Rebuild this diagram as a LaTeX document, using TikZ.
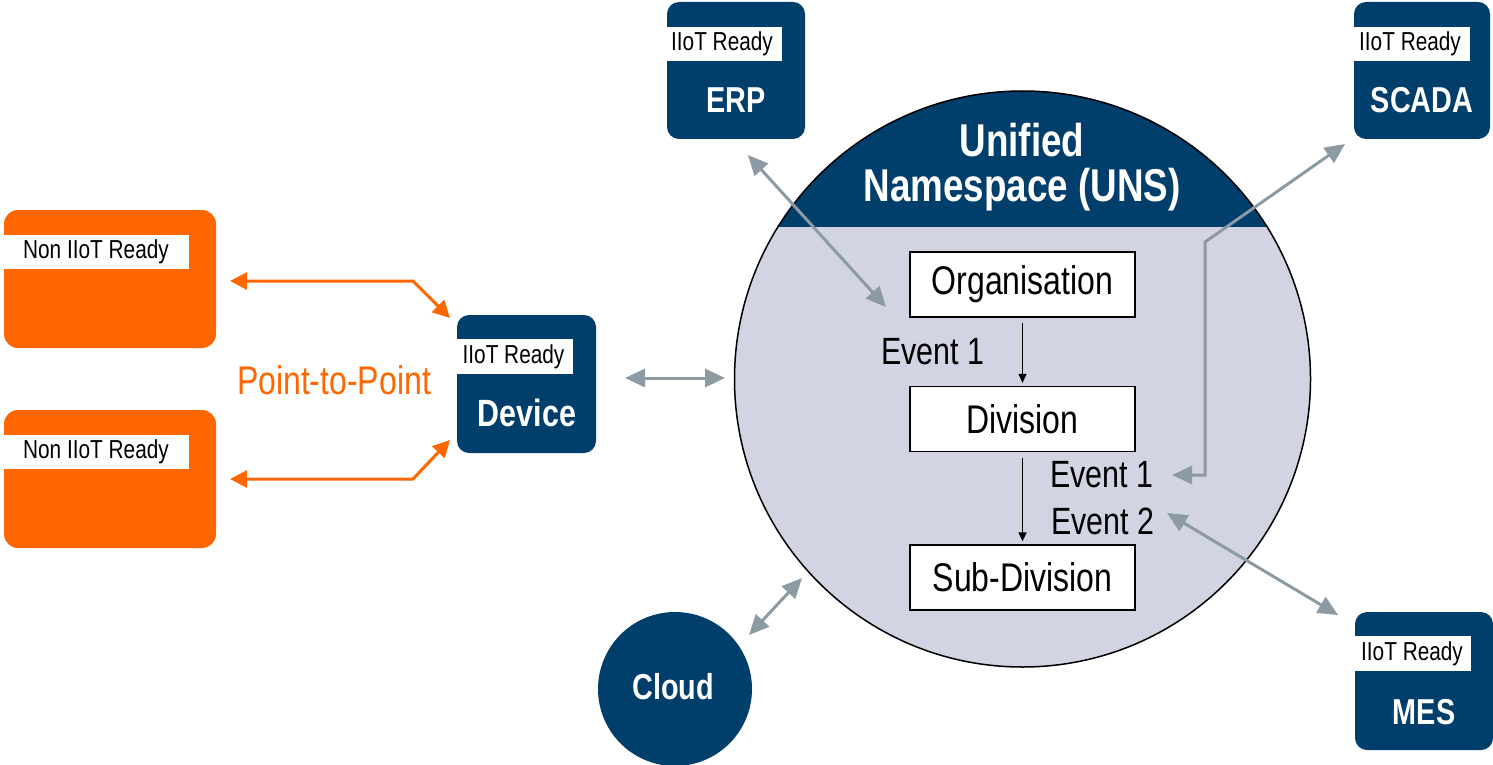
\documentclass[tikz,border=0pt]{standalone}
\usepackage{fontspec}
\setmainfont{Liberation Sans}[FakeStretch=0.8]
\usetikzlibrary{arrows.meta}
\definecolor{navy}{RGB}{0,62,108}
\definecolor{orangec}{RGB}{255,102,0}
\definecolor{grayc}{RGB}{140,154,163}
\definecolor{lavender}{RGB}{210,212,227}
\tikzset{
  iotbox/.style={rectangle, rounded corners=12pt, fill=navy, minimum width=138pt, minimum height=137pt, inner sep=0pt},
  oldbox/.style={rectangle, rounded corners=14pt, fill=orangec, minimum width=212pt, minimum height=138pt, inner sep=0pt},
  tag/.style={rectangle, fill=white, minimum width=120pt, minimum height=34pt, inner sep=0pt, font=\fontsize{26}{26}\selectfont},
  boxtitle/.style={text=white, inner sep=0pt, font=\bfseries\fontsize{36}{36}\selectfont},
  level/.style={rectangle, draw=black, line width=1.3pt, fill=white, minimum width=225pt, minimum height=65pt, inner sep=0pt, font=\fontsize{40}{40}\selectfont},
  event/.style={inner sep=0pt, font=\fontsize{38}{38}\selectfont},
  garrow/.style={draw=grayc, line width=3pt, {Triangle[length=20pt,width=18pt]}-{Triangle[length=20pt,width=18pt]}},
  oarrow/.style={draw=orangec, line width=3pt, {Triangle[length=17pt,width=17pt]}-{Triangle[length=17pt,width=17pt]}},
  barrow/.style={draw=black, line width=1.2pt, -{Triangle[length=9pt,width=8pt]}}
}
\begin{document}
\begin{tikzpicture}[x=1pt,y=-1pt]
\useasboundingbox (0,0) rectangle (1493,765);

% UNS circle
\node[circle, fill=lavender, minimum size=576pt, inner sep=0pt, outer sep=0pt] (uns) at (1022.5,379) {};
\begin{scope}
  \clip (uns.center) circle[radius=288pt];
  \fill[navy] (700,60) rectangle (1350,227);
\end{scope}
\draw[black, line width=1.5pt] (uns.center) circle[radius=288pt];
\node[text=white, align=center, inner sep=0pt, font=\bfseries\fontsize{46}{45}\selectfont] (title) at (1022,167) {Unified\\Namespace (UNS)};

% levels
\node[level] (org) at (1022.5,284.5) {Organisation};
\node[level] (div) at (1022.5,419) {Division};
\node[level] (sub) at (1022.5,577.5) {Sub-Division};
\draw[barrow, shorten <=5pt, shorten >=3pt] (org.south) -- (div.north);
\draw[barrow, shorten <=6pt, shorten >=3pt] (div.south) -- (sub.north);
\node[event] (ev0) at (933,352) {Event 1};
\node[event] (ev1) at (1102,475) {Event 1};
\node[event] (ev2) at (1103,521) {Event 2};

% IIoT ready boxes
\node[iotbox] (erp) at (736,70.5) {};
\node[tag] (erptag) at (722,44) {IIoT Ready};
\node[boxtitle] (erpt) at (736,100) {ERP};

\node[iotbox, minimum width=136pt] (scada) at (1422,70.5) {};
\node[tag] (scadatag) at (1410,44) {IIoT Ready};
\node[boxtitle] (scadat) at (1422,100) {SCADA};

\node[iotbox, minimum width=139pt, minimum height=138pt] (device) at (526.5,384) {};
\node[tag, minimum width=119pt, minimum height=35pt] (devtag) at (513.5,356.5) {IIoT Ready};
\node[boxtitle, font=\bfseries\fontsize{38}{38}\selectfont] (devt) at (527,413) {Device};

\node[iotbox, minimum height=138pt] (mes) at (1424,681) {};
\node[tag, minimum width=118pt, minimum height=35pt] (mestag) at (1412,653.5) {IIoT Ready};
\node[boxtitle] (mest) at (1424,712) {MES};

% Cloud
\node[circle, fill=navy, minimum size=154pt, inner sep=0pt] (cloud) at (675,689) {};
\node[boxtitle] (cloudt) at (673,687) {Cloud};

% Non IIoT boxes
\node[oldbox] (old1) at (110,279) {};
\node[tag, minimum width=186pt] (old1tag) at (96,252) {Non IIoT Ready};
\node[oldbox] (old2) at (110,479) {};
\node[tag, minimum width=186pt] (old2tag) at (96,452) {Non IIoT Ready};
\node[text=orangec, inner sep=0pt, font=\fontsize{40}{40}\selectfont] (p2p) at (334,380) {Point-to-Point};

% orange connectors
\coordinate (o1a) at (230,281);
\coordinate (o1b) at (413,281);
\coordinate (o1c) at (450,318);
\coordinate (o2a) at (230,479);
\coordinate (o2b) at (413,479);
\coordinate (o2c) at (450,440);
\draw[oarrow] (o1a) -- (o1b) -- (o1c);
\draw[oarrow] (o2a) -- (o2b) -- (o2c);

% gray connectors
\coordinate (dA) at (625,378);
\coordinate (dB) at (725,378);
\draw[garrow] (dA) -- (dB);
\coordinate (eA) at (748,155);
\coordinate (eB) at (886,307);
\draw[garrow] (eA) -- (eB);
\coordinate (sA) at (1172,475);
\coordinate (sB) at (1205,475);
\coordinate (sC) at (1205,242);
\coordinate (sD) at (1345,144);
\draw[garrow, line join=miter] (sA) -- (sB) -- (sC) -- (sD);
\coordinate (mA) at (1167,513);
\coordinate (mB) at (1338,615);
\draw[garrow] (mA) -- (mB);
\coordinate (cA) at (749,635);
\coordinate (cB) at (802,578);
\draw[garrow] (cA) -- (cB);
\end{tikzpicture}
\end{document}
